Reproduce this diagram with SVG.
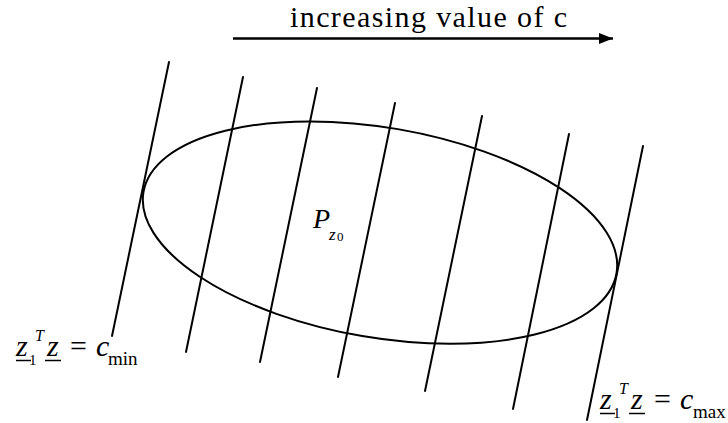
<svg xmlns="http://www.w3.org/2000/svg" width="728" height="423" viewBox="0 0 728 423">
<defs>
<style>
.ln{stroke:#000;stroke-width:2;fill:none;stroke-linecap:round}
.ul{stroke:#000;stroke-width:1.5}
text{font-family:"Liberation Serif","Times New Roman",serif;fill:#000}
.it{font-style:italic}
.big{font-size:30px}
.sub{font-size:19px}
.sml{font-size:15px}
</style>
<marker id="ah" viewBox="0 0 14 11" refX="14" refY="5.5" markerWidth="14" markerHeight="11" markerUnits="userSpaceOnUse" orient="auto">
<path d="M0,0 L14,5.5 L0,11 Z" fill="#000"/>
</marker>
</defs>
<rect width="728" height="423" fill="#fff"/>
<g id="title">
<text x="290" y="27" font-size="30" textLength="277" lengthAdjust="spacing">increasing value of c</text>
</g>
<g id="connectors">
<line x1="233" y1="38.5" x2="613" y2="38.5" stroke="#000" stroke-width="2.7" marker-end="url(#ah)"/>
</g>
<g id="level-lines">
<line class="ln" x1="169" y1="62" x2="112" y2="336"/>
<line class="ln" x1="243" y1="77" x2="186" y2="352"/>
<line class="ln" x1="317" y1="88" x2="260" y2="362"/>
<line class="ln" x1="395" y1="103" x2="338" y2="377"/>
<line class="ln" x1="482" y1="116" x2="425" y2="391"/>
<line class="ln" x1="569" y1="134" x2="513" y2="409"/>
<line class="ln" x1="643" y1="146" x2="587" y2="420"/>
</g>
<g id="region">
<ellipse class="ln" cx="380" cy="232.6" rx="240" ry="105" transform="rotate(9.76 380 232.6)"/>
<text class="it" x="313" y="228" font-size="28">P</text>
<text class="it" x="329" y="240" font-size="17">z</text>
<text x="337" y="241" font-size="13">0</text>
</g>
<g id="label-min">
<text class="it big" x="16" y="356">z</text>
<line class="ul" x1="16" y1="360.5" x2="31" y2="360.5"/>
<text class="sml" x="29" y="365">1</text>
<text class="it" x="35" y="341" font-size="16">T</text>
<text class="it big" x="47" y="356">z</text>
<line class="ul" x1="45" y1="360.5" x2="61" y2="360.5"/>
<text class="big" x="70" y="356">=</text>
<text class="it big" x="96" y="356">c</text>
<text class="sub" x="108" y="365">min</text>
</g>
<g id="label-max">
<text class="it big" x="600" y="409">z</text>
<line class="ul" x1="600" y1="413.5" x2="615" y2="413.5"/>
<text class="sml" x="613" y="418">1</text>
<text class="it" x="619" y="394" font-size="16">T</text>
<text class="it big" x="631" y="409">z</text>
<line class="ul" x1="629" y1="413.5" x2="645" y2="413.5"/>
<text class="big" x="654" y="409">=</text>
<text class="it big" x="680" y="409">c</text>
<text class="sub" x="693" y="418">max</text>
</g>
</svg>
